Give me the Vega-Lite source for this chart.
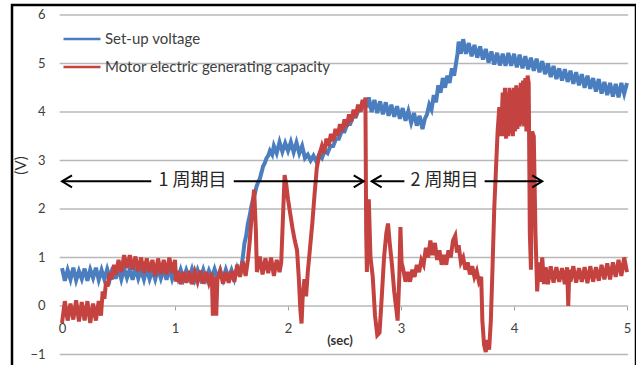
{
"$schema": "https://vega.github.io/schema/vega-lite/v6.json",
"autosize": {"type": "none"},
"padding": {"left": 12, "top": 5, "right": 0, "bottom": 0},
"width": 624,
"height": 364,
"background": "white",
"view": {"stroke": "black", "strokeWidth": 2.5},
"datasets": {
"grid": [{"v":-1,"t":-0.02,"t2":5.01},{"v":0,"t":-0.02,"t2":5.01},{"v":1,"t":-0.02,"t2":5.01},{"v":2,"t":-0.02,"t2":5.01},{"v":3,"t":-0.02,"t2":5.01},{"v":4,"t":-0.02,"t2":5.01},{"v":5,"t":-0.02,"t2":5.01},{"v":6,"t":-0.02,"t2":5.01}],
"vlines": [{"t":2.71},{"t":4.27}],
"segs": [{"t":0.0,"t2":0.79,"v":2.57},{"t":1.52,"t2":2.67,"v":2.57},{"t":2.74,"t2":3.03,"v":2.57},{"t":3.74,"t2":4.25,"v":2.57}],
"heads": [{"t":0.0,"v":2.57,"dir":"L"},{"t":2.67,"v":2.57,"dir":"R"},{"t":2.74,"v":2.57,"dir":"L"},{"t":4.25,"v":2.57,"dir":"R"}],
"labels": [{"t":1.155,"v":2.57,"label":"1 周期目"},{"t":3.385,"v":2.57,"label":"2 周期目"}],
"sec": [{"t":2.46,"v":-0.72,"label":"(sec)"}],
"blue": [
{"t":0.000,"v":0.78},{"t":0.025,"v":0.52},{"t":0.050,"v":0.74},{"t":0.075,"v":0.55},{"t":0.100,"v":0.79},{"t":0.125,"v":0.53},{"t":0.150,"v":0.72},{"t":0.175,"v":0.56},{"t":0.200,"v":0.77},{"t":0.225,"v":0.52},{"t":0.250,"v":0.75},{"t":0.275,"v":0.58},{"t":0.300,"v":0.79},{"t":0.325,"v":0.54},{"t":0.350,"v":0.74},
{"t":0.375,"v":0.55},{"t":0.400,"v":0.76},{"t":0.425,"v":0.57},{"t":0.450,"v":0.80},{"t":0.475,"v":0.56},{"t":0.500,"v":0.78},{"t":0.525,"v":0.55},{"t":0.550,"v":0.77},{"t":0.575,"v":0.58},{"t":0.600,"v":0.76},{"t":0.625,"v":0.54},{"t":0.650,"v":0.79},{"t":0.675,"v":0.57},{"t":0.700,"v":0.75},{"t":0.725,"v":0.55},{"t":0.750,"v":0.78},{"t":0.775,"v":0.56},{"t":0.800,"v":0.74},{"t":0.825,"v":0.55},{"t":0.850,"v":0.77},{"t":0.875,"v":0.57},{"t":0.900,"v":0.76},{"t":0.925,"v":0.54},{"t":0.950,"v":0.78},{"t":0.975,"v":0.56},{"t":1.000,"v":0.74},
{"t":1.025,"v":0.57},{"t":1.050,"v":0.75},{"t":1.075,"v":0.56},{"t":1.100,"v":0.74},{"t":1.125,"v":0.58},{"t":1.150,"v":0.76},{"t":1.175,"v":0.55},{"t":1.200,"v":0.74},{"t":1.225,"v":0.57},{"t":1.250,"v":0.75},{"t":1.275,"v":0.56},{"t":1.300,"v":0.73},{"t":1.325,"v":0.58},{"t":1.350,"v":0.76},{"t":1.375,"v":0.57},{"t":1.400,"v":0.74},{"t":1.425,"v":0.55},{"t":1.450,"v":0.75},{"t":1.475,"v":0.58},{"t":1.500,"v":0.74},{"t":1.525,"v":0.56},{"t":1.550,"v":0.78},{"t":1.575,"v":0.62},
{"t":1.600,"v":1.0},{"t":1.615,"v":1.3},{"t":1.630,"v":1.45},{"t":1.645,"v":1.7},{"t":1.660,"v":1.85},{"t":1.675,"v":2.05},{"t":1.690,"v":2.2},{"t":1.705,"v":2.3},{"t":1.720,"v":2.45},{"t":1.735,"v":2.55},{"t":1.750,"v":2.62},{"t":1.765,"v":2.75},{"t":1.780,"v":2.88},{"t":1.795,"v":2.95},{"t":1.810,"v":3.05},{"t":1.825,"v":3.1},{"t":1.840,"v":3.2},{"t":1.860,"v":3.12},{"t":1.875,"v":3.3},{"t":1.900,"v":3.15},{"t":1.925,"v":3.38},{"t":1.950,"v":3.18},{"t":1.975,"v":3.36},{"t":2.000,"v":3.2},{"t":2.025,"v":3.38},{"t":2.050,"v":3.17},{"t":2.075,"v":3.37},{"t":2.100,"v":3.15},{"t":2.125,"v":3.3},{"t":2.150,"v":3.05},{"t":2.175,"v":3.12},{"t":2.200,"v":3.0},{"t":2.225,"v":3.1},{"t":2.250,"v":2.98},{"t":2.275,"v":3.12},{"t":2.300,"v":3.05},{"t":2.325,"v":3.2},{"t":2.350,"v":3.15},{"t":2.375,"v":3.3},{"t":2.400,"v":3.3},{"t":2.425,"v":3.45},{"t":2.450,"v":3.45},{"t":2.475,"v":3.6},{"t":2.500,"v":3.6},{"t":2.525,"v":3.75},{"t":2.550,"v":3.75},{"t":2.575,"v":3.9},{"t":2.600,"v":3.9},{"t":2.625,"v":4.05},{"t":2.650,"v":4.05},{"t":2.675,"v":4.2},{"t":2.700,"v":4.15},
{"t":2.715,"v":4.3},{"t":2.740,"v":4.0},{"t":2.765,"v":4.25},{"t":2.790,"v":3.98},{"t":2.815,"v":4.22},{"t":2.840,"v":3.95},{"t":2.865,"v":4.2},{"t":2.890,"v":3.92},{"t":2.915,"v":4.15},{"t":2.940,"v":3.9},{"t":2.965,"v":4.12},{"t":2.990,"v":3.86},{"t":3.015,"v":4.08},{"t":3.040,"v":3.82},{"t":3.065,"v":4.02},{"t":3.090,"v":3.78},{"t":3.115,"v":3.98},{"t":3.140,"v":3.72},{"t":3.165,"v":3.92},{"t":3.190,"v":3.65},{"t":3.210,"v":3.85},{"t":3.230,"v":3.95},{"t":3.250,"v":4.15},{"t":3.270,"v":4.05},{"t":3.290,"v":4.35},{"t":3.310,"v":4.2},{"t":3.330,"v":4.55},{"t":3.350,"v":4.4},{"t":3.370,"v":4.7},{"t":3.390,"v":4.5},{"t":3.410,"v":4.75},{"t":3.430,"v":4.6},{"t":3.450,"v":4.9},{"t":3.470,"v":4.75},{"t":3.490,"v":5.05},{"t":3.500,"v":5.2},{"t":3.510,"v":5.45},{"t":3.530,"v":5.2},{"t":3.550,"v":5.5},{"t":3.575,"v":5.2},{"t":3.600,"v":5.42},{"t":3.625,"v":5.15},{"t":3.650,"v":5.38},{"t":3.675,"v":5.12},{"t":3.700,"v":5.35},{"t":3.725,"v":5.08},{"t":3.750,"v":5.3},{"t":3.775,"v":5.02},{"t":3.800,"v":5.25},{"t":3.825,"v":4.98},{"t":3.850,"v":5.22},{"t":3.875,"v":4.96},{"t":3.900,"v":5.2},{"t":3.925,"v":4.95},{"t":3.950,"v":5.22},{"t":3.975,"v":4.95},{"t":4.000,"v":5.2},{"t":4.025,"v":4.92},{"t":4.050,"v":5.18},{"t":4.075,"v":4.9},{"t":4.100,"v":5.15},{"t":4.125,"v":4.88},{"t":4.150,"v":5.12},{"t":4.175,"v":4.85},{"t":4.200,"v":5.1},{"t":4.225,"v":4.82},{"t":4.250,"v":5.05},{"t":4.275,"v":4.78},{"t":4.300,"v":5.0},{"t":4.325,"v":4.72},{"t":4.350,"v":4.95},{"t":4.375,"v":4.68},{"t":4.400,"v":4.9},{"t":4.425,"v":4.65},{"t":4.450,"v":4.88},{"t":4.475,"v":4.62},{"t":4.500,"v":4.85},{"t":4.525,"v":4.58},{"t":4.550,"v":4.82},{"t":4.575,"v":4.55},{"t":4.600,"v":4.78},{"t":4.625,"v":4.5},{"t":4.650,"v":4.75},{"t":4.675,"v":4.48},{"t":4.700,"v":4.7},{"t":4.725,"v":4.42},{"t":4.750,"v":4.68},{"t":4.775,"v":4.38},{"t":4.800,"v":4.62},{"t":4.825,"v":4.35},{"t":4.850,"v":4.6},{"t":4.875,"v":4.32},{"t":4.900,"v":4.58},{"t":4.925,"v":4.3},{"t":4.950,"v":4.6},{"t":4.975,"v":4.38},{"t":5.000,"v":4.6}
],
"red": [
{"t":0.000,"v":-0.35},{"t":0.025,"v":0.1},{"t":0.050,"v":-0.3},{"t":0.075,"v":0.05},{"t":0.100,"v":-0.28},{"t":0.125,"v":0.12},{"t":0.150,"v":-0.32},{"t":0.175,"v":0.08},{"t":0.200,"v":-0.3},{"t":0.225,"v":0.1},{"t":0.250,"v":-0.35},{"t":0.275,"v":0.05},{"t":0.300,"v":-0.3},{"t":0.325,"v":0.1},{"t":0.345,"v":-0.2},{"t":0.360,"v":0.3},{"t":0.375,"v":0.15},{"t":0.390,"v":0.5},{"t":0.405,"v":0.4},{"t":0.420,"v":0.68},{"t":0.440,"v":0.55},{"t":0.460,"v":0.85},{"t":0.480,"v":0.65},{"t":0.500,"v":0.95},{"t":0.525,"v":0.7},{"t":0.550,"v":1.05},{"t":0.575,"v":0.78},{"t":0.600,"v":1.05},{"t":0.625,"v":0.75},{"t":0.650,"v":1.02},{"t":0.675,"v":0.72},{"t":0.700,"v":1.0},{"t":0.725,"v":0.68},{"t":0.750,"v":0.98},{"t":0.775,"v":0.7},{"t":0.800,"v":0.95},{"t":0.825,"v":0.62},{"t":0.850,"v":0.98},{"t":0.875,"v":0.66},{"t":0.900,"v":0.95},{"t":0.925,"v":0.65},{"t":0.950,"v":1.0},{"t":0.975,"v":0.68},{"t":1.000,"v":0.95},
{"t":1.010,"v":0.5},{"t":1.025,"v":0.72},{"t":1.050,"v":0.45},{"t":1.075,"v":0.7},{"t":1.100,"v":0.48},{"t":1.125,"v":0.72},{"t":1.150,"v":0.45},{"t":1.175,"v":0.7},{"t":1.200,"v":0.5},{"t":1.225,"v":0.73},{"t":1.250,"v":0.46},{"t":1.275,"v":0.7},{"t":1.300,"v":0.48},{"t":1.325,"v":0.68},{"t":1.335,"v":-0.2},{"t":1.345,"v":0.6},{"t":1.355,"v":0.5},{"t":1.365,"v":-0.2},{"t":1.375,"v":0.55},{"t":1.400,"v":0.72},{"t":1.425,"v":0.46},{"t":1.450,"v":0.7},{"t":1.475,"v":0.48},{"t":1.500,"v":0.72},{"t":1.525,"v":0.5},{"t":1.550,"v":0.85},{"t":1.575,"v":0.6},{"t":1.600,"v":0.92},{"t":1.625,"v":0.62},{"t":1.645,"v":0.95},{"t":1.660,"v":1.3},{"t":1.680,"v":1.9},{"t":1.700,"v":2.4},{"t":1.715,"v":1.6},{"t":1.725,"v":0.7},{"t":1.750,"v":1.02},{"t":1.775,"v":0.65},{"t":1.800,"v":0.98},{"t":1.825,"v":0.68},{"t":1.850,"v":1.0},{"t":1.875,"v":0.62},{"t":1.900,"v":0.95},{"t":1.925,"v":0.7},{"t":1.940,"v":0.9},{"t":1.955,"v":1.8},{"t":1.970,"v":2.7},{"t":1.985,"v":2.5},{"t":2.000,"v":2.2},{"t":2.020,"v":1.9},{"t":2.040,"v":1.6},{"t":2.060,"v":1.35},{"t":2.080,"v":1.15},{"t":2.095,"v":0.6},{"t":2.110,"v":-0.1},{"t":2.120,"v":-0.36},{"t":2.130,"v":0.2},{"t":2.145,"v":0.55},{"t":2.160,"v":0.2},{"t":2.175,"v":0.7},{"t":2.195,"v":1.2},{"t":2.215,"v":1.7},{"t":2.235,"v":2.3},{"t":2.255,"v":2.85},{"t":2.275,"v":3.1},{"t":2.300,"v":3.3},{"t":2.320,"v":3.15},{"t":2.340,"v":3.45},{"t":2.360,"v":3.3},{"t":2.380,"v":3.55},{"t":2.400,"v":3.4},{"t":2.420,"v":3.65},{"t":2.440,"v":3.5},{"t":2.460,"v":3.75},{"t":2.480,"v":3.6},{"t":2.500,"v":3.85},{"t":2.520,"v":3.7},{"t":2.540,"v":3.95},{"t":2.560,"v":3.8},{"t":2.580,"v":4.05},{"t":2.600,"v":3.9},{"t":2.620,"v":4.15},{"t":2.640,"v":4.0},{"t":2.660,"v":4.25},{"t":2.675,"v":4.1},{"t":2.685,"v":4.3},{"t":2.692,"v":1.5},{"t":2.698,"v":0.7},{"t":2.705,"v":1.5},{"t":2.715,"v":2.2},{"t":2.730,"v":1.0},{"t":2.750,"v":0.6},{"t":2.770,"v":-0.2},{"t":2.790,"v":-0.6},{"t":2.810,"v":-0.55},{"t":2.830,"v":0.2},{"t":2.850,"v":1.0},{"t":2.870,"v":1.5},{"t":2.885,"v":1.7},{"t":2.900,"v":1.3},{"t":2.920,"v":0.85},{"t":2.940,"v":0.3},{"t":2.960,"v":-0.1},{"t":2.970,"v":-0.3},{"t":2.985,"v":0.6},{"t":2.995,"v":1.63},{"t":3.005,"v":0.9},{"t":3.020,"v":0.75},{"t":3.040,"v":0.5},{"t":3.060,"v":0.7},{"t":3.080,"v":0.5},{"t":3.100,"v":0.75},{"t":3.120,"v":0.6},{"t":3.140,"v":0.85},{"t":3.160,"v":0.7},{"t":3.180,"v":0.95},{"t":3.200,"v":0.85},{"t":3.220,"v":1.2},{"t":3.240,"v":1.0},{"t":3.260,"v":1.35},{"t":3.280,"v":1.05},{"t":3.300,"v":1.3},{"t":3.320,"v":0.95},{"t":3.340,"v":1.15},{"t":3.360,"v":0.85},{"t":3.380,"v":1.05},{"t":3.400,"v":0.85},{"t":3.420,"v":1.15},{"t":3.440,"v":1.0},{"t":3.460,"v":1.35},{"t":3.480,"v":1.45},{"t":3.495,"v":1.1},{"t":3.510,"v":1.25},{"t":3.530,"v":0.9},{"t":3.550,"v":1.0},{"t":3.570,"v":0.75},{"t":3.590,"v":0.9},{"t":3.610,"v":0.65},{"t":3.630,"v":0.82},{"t":3.650,"v":0.6},{"t":3.670,"v":0.72},{"t":3.690,"v":0.5},{"t":3.710,"v":0.6},{"t":3.720,"v":-0.3},{"t":3.735,"v":-0.8},{"t":3.750,"v":-0.95},{"t":3.765,"v":-0.7},{"t":3.780,"v":-0.9},{"t":3.795,"v":-0.3},{"t":3.810,"v":0.8},{"t":3.825,"v":2.0},{"t":3.840,"v":2.8},{"t":3.855,"v":3.6},{"t":3.870,"v":4.1},{"t":3.885,"v":3.5},{"t":3.900,"v":4.4},{"t":3.910,"v":3.5},{"t":3.920,"v":4.5},{"t":3.930,"v":3.45},{"t":3.940,"v":4.4},{"t":3.950,"v":3.5},{"t":3.960,"v":4.5},{"t":3.970,"v":3.55},{"t":3.980,"v":4.45},{"t":3.990,"v":3.5},{"t":4.000,"v":4.5},{"t":4.010,"v":3.6},{"t":4.020,"v":4.55},{"t":4.030,"v":3.65},{"t":4.040,"v":4.5},{"t":4.050,"v":3.7},{"t":4.060,"v":4.6},{"t":4.070,"v":3.75},{"t":4.080,"v":4.65},{"t":4.090,"v":3.7},{"t":4.100,"v":4.7},{"t":4.110,"v":3.6},{"t":4.120,"v":4.75},{"t":4.130,"v":4.6},{"t":4.140,"v":1.5},{"t":4.150,"v":0.75},{"t":4.160,"v":3.6},{"t":4.175,"v":3.5},{"t":4.190,"v":1.5},{"t":4.205,"v":0.3},{"t":4.220,"v":0.9},{"t":4.235,"v":0.5},{"t":4.250,"v":1.0},{"t":4.265,"v":0.45},{"t":4.280,"v":0.8},{"t":4.300,"v":0.45},{"t":4.325,"v":0.82},{"t":4.350,"v":0.48},{"t":4.375,"v":0.8},{"t":4.400,"v":0.5},{"t":4.425,"v":0.78},{"t":4.450,"v":0.45},{"t":4.470,"v":0.8},{"t":4.480,"v":0.0},{"t":4.490,"v":0.75},{"t":4.500,"v":0.5},{"t":4.525,"v":0.82},{"t":4.550,"v":0.48},{"t":4.575,"v":0.78},{"t":4.600,"v":0.5},{"t":4.625,"v":0.8},{"t":4.650,"v":0.47},{"t":4.675,"v":0.82},{"t":4.700,"v":0.5},{"t":4.725,"v":0.8},{"t":4.750,"v":0.52},{"t":4.775,"v":0.85},{"t":4.800,"v":0.55},{"t":4.825,"v":0.88},{"t":4.850,"v":0.55},{"t":4.875,"v":0.9},{"t":4.900,"v":0.6},{"t":4.925,"v":0.95},{"t":4.950,"v":0.62},{"t":4.975,"v":1.0},{"t":5.000,"v":0.7}
]
},
"encoding": {
"x": {"field": "t", "type": "quantitative", "title": null,
 "scale": {"domain": [-0.4425, 5.0796], "nice": false, "zero": false},
 "axis": {"orient": "bottom", "offset": -63, "values": [0,1,2,3,4,5], "domain": false, "grid": false, "ticks": true, "tickSize": 4, "tickColor": "#a0a0a0", "labelPadding": 12, "labelFontSize": 13, "labelFont": "Lato", "labelColor": "#404040", "labelFlush": false}},
"y": {"field": "v", "type": "quantitative", "title": "(V)",
 "scale": {"domain": [-1.299, 6.206], "nice": false, "zero": false},
 "axis": {"orient": "left", "offset": -50, "values": [-1,0,1,2,3,4,5,6], "domain": false, "grid": false, "ticks": false, "labelPadding": 17, "labelFontSize": 13, "labelFont": "Lato", "labelColor": "#404040", "titleX": -42, "titleY": 160, "titleFontSize": 15, "titleFont": "Lato", "titleFontWeight": "normal", "titleColor": "#333333", "titleBaseline": "middle"}}
},
"layer": [
{"data": {"name": "grid"}, "mark": {"type": "rule", "color": "#b8b8b8", "strokeWidth": 1.3},
 "encoding": {"x2": {"field": "t2"}}},
{"data": {"name": "blue"}, "mark": {"type": "line", "strokeWidth": 4, "strokeJoin": "miter", "interpolate": "linear"},
 "encoding": {"color": {"datum": "Set-up voltage", "type": "nominal",
   "scale": {"domain": ["Set-up voltage", "Motor electric generating capacity"], "range": ["#4A7EBF", "#C4423F"]},
   "legend": {"orient": "none", "legendX": 50, "legendY": 14, "title": null, "symbolType": "stroke", "symbolSize": 1369, "symbolStrokeWidth": 2.5, "labelFontSize": 15, "labelFont": "Lato", "labelColor": "#404040", "labelLimit": 0, "rowPadding": -3, "labelOffset": 3, "padding": 0}}}},
{"data": {"name": "red"}, "mark": {"type": "line", "strokeWidth": 4, "strokeJoin": "miter"},
 "encoding": {"color": {"datum": "Motor electric generating capacity", "type": "nominal"}}},
{"data": {"name": "vlines"}, "mark": {"type": "rule", "color": "black", "strokeWidth": 2.5},
 "encoding": {"y": {"datum": -1}, "y2": {"datum": 6.206}}},
{"data": {"name": "segs"}, "mark": {"type": "rule", "color": "black", "strokeWidth": 2},
 "encoding": {"x2": {"field": "t2"}}},
{"data": {"name": "heads"}, "mark": {"type": "point", "filled": false, "stroke": "black", "strokeWidth": 2, "size": 400, "opacity": 1},
 "encoding": {"shape": {"field": "dir", "type": "nominal", "legend": null,
   "scale": {"domain": ["L", "R"], "range": ["M 1 -0.6 L 0 0 L 1 0.6", "M -1 -0.6 L 0 0 L -1 0.6"]}}}},
{"data": {"name": "labels"}, "mark": {"type": "text", "font": "Noto Sans CJK JP", "fontSize": 18, "color": "#262626", "align": "center", "baseline": "middle"},
 "encoding": {"text": {"field": "label"}}},
{"data": {"name": "sec"}, "mark": {"type": "text", "font": "Lato", "fontSize": 13, "fontWeight": "bold", "color": "#333333", "align": "center", "baseline": "middle"},
 "encoding": {"text": {"field": "label"}}}
]
}
